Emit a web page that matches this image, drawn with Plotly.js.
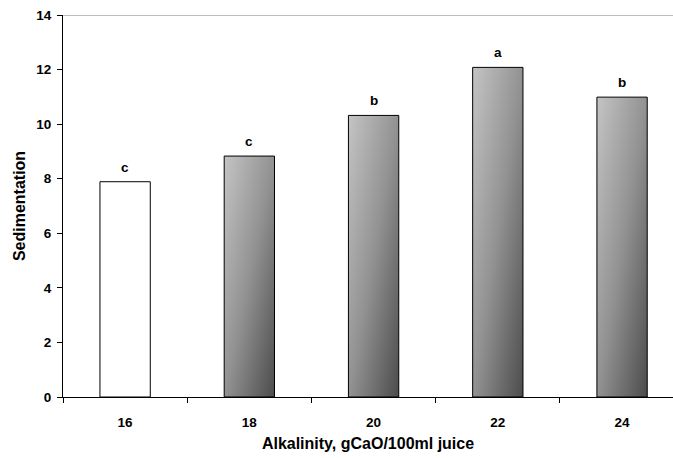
<!DOCTYPE html>
<html><head><meta charset="utf-8">
<script src="https://cdn.plot.ly/plotly-3.0.1.min.js"></script>
<style>html,body{margin:0;padding:0;background:#fff}</style>
</head><body>
<div id="chart" style="width:673px;height:458px"></div>
<script>
const categories = ['16', '18', '20', '22', '24'];
const sedimentation = [7.89, 8.83, 10.32, 12.08, 10.99];
const letters = ['c', 'c', 'b', 'a', 'b'];
const fills = ['#ffffff', 'grad', 'grad', 'grad', 'grad'];

const FONT = '"Liberation Sans", Arial, sans-serif';
const idx = categories.map((c, i) => i);

const trace = {
  type: 'bar',
  x: idx,
  y: sedimentation,
  width: 0.405,
  marker: {color: fills.map(f => f === 'grad' ? '#888888' : f), line: {color: '#000', width: 1}},
  hoverinfo: 'none'
};

const annotations = categories.map((c, i) => ({
  x: i, y: sedimentation[i], xref: 'x', yref: 'y', text: letters[i], showarrow: false,
  yanchor: 'bottom', yshift: 5,
  font: {family: FONT, size: 13.5, color: '#000', weight: 'bold'}
}));

const layout = {
  width: 673, height: 458,
  margin: {l: 63, r: 0, t: 15, b: 61},
  paper_bgcolor: '#fff', plot_bgcolor: '#fff',
  showlegend: false,
  font: {family: FONT, color: '#000'},
  xaxis: {
    type: 'linear', range: [-0.5, 4.41],
    tickmode: 'array', tickvals: idx, ticktext: categories,
    showline: true, linecolor: '#000', linewidth: 1,
    ticks: 'outside', ticklen: 13, tickcolor: 'rgba(0,0,0,0)',
    minor: {tick0: -0.5, dtick: 1, ticks: 'outside', ticklen: 5, tickcolor: '#000', showgrid: false},
    showgrid: false, zeroline: false,
    tickfont: {family: FONT, size: 13.5, color: '#000', weight: 'bold'},
    title: {text: 'Alkalinity, gCaO/100ml juice', font: {family: FONT, size: 16, color: '#000', weight: 'bold'}, standoff: 8}
  },
  yaxis: {
    range: [0, 14], dtick: 2, tick0: 0,
    showline: true, linecolor: '#000', linewidth: 1,
    ticks: 'outside', ticklen: 5, tickcolor: '#000',
    ticklabelstandoff: 3,
    showgrid: false, zeroline: false,
    tickfont: {family: FONT, size: 13.5, color: '#000', weight: 'bold'},
    title: {text: 'Sedimentation', font: {family: FONT, size: 16, color: '#000', weight: 'bold'}, standoff: 6}
  },
  shapes: [{type: 'line', xref: 'paper', x0: 0, x1: 1, yref: 'y', y0: 14, y1: 14, line: {color: '#a6a6a6', width: 1.5}, layer: 'below'}],
  annotations: annotations
};

function applyGradient(gd) {
  const svg = gd.querySelector('svg.main-svg');
  if (!svg) return;
  let defs = svg.querySelector('defs');
  if (!defs) { defs = document.createElementNS('http://www.w3.org/2000/svg', 'defs'); svg.insertBefore(defs, svg.firstChild); }
  if (!svg.querySelector('#barGrad')) {
    const g = document.createElementNS('http://www.w3.org/2000/svg', 'linearGradient');
    g.setAttribute('id', 'barGrad');
    g.setAttribute('x1', '0'); g.setAttribute('y1', '0');
    g.setAttribute('x2', '1'); g.setAttribute('y2', '1');
    [['0', '#c4c4c4'], ['0.5', '#929292'], ['1', '#4c4c4c']].forEach(([o, c]) => {
      const s = document.createElementNS('http://www.w3.org/2000/svg', 'stop');
      s.setAttribute('offset', o); s.setAttribute('stop-color', c);
      g.appendChild(s);
    });
    defs.appendChild(g);
  }
  const paths = gd.querySelectorAll('.trace.bars .point path');
  paths.forEach((p, i) => { if (fills[i] === 'grad') p.style.fill = 'url(#barGrad)'; });
}

const gd = document.getElementById('chart');
Plotly.newPlot(gd, [trace], layout, {displayModeBar: false, staticPlot: true}).then(() => {
  applyGradient(gd);
  gd.on('plotly_afterplot', () => applyGradient(gd));
});
</script>
</body></html>
